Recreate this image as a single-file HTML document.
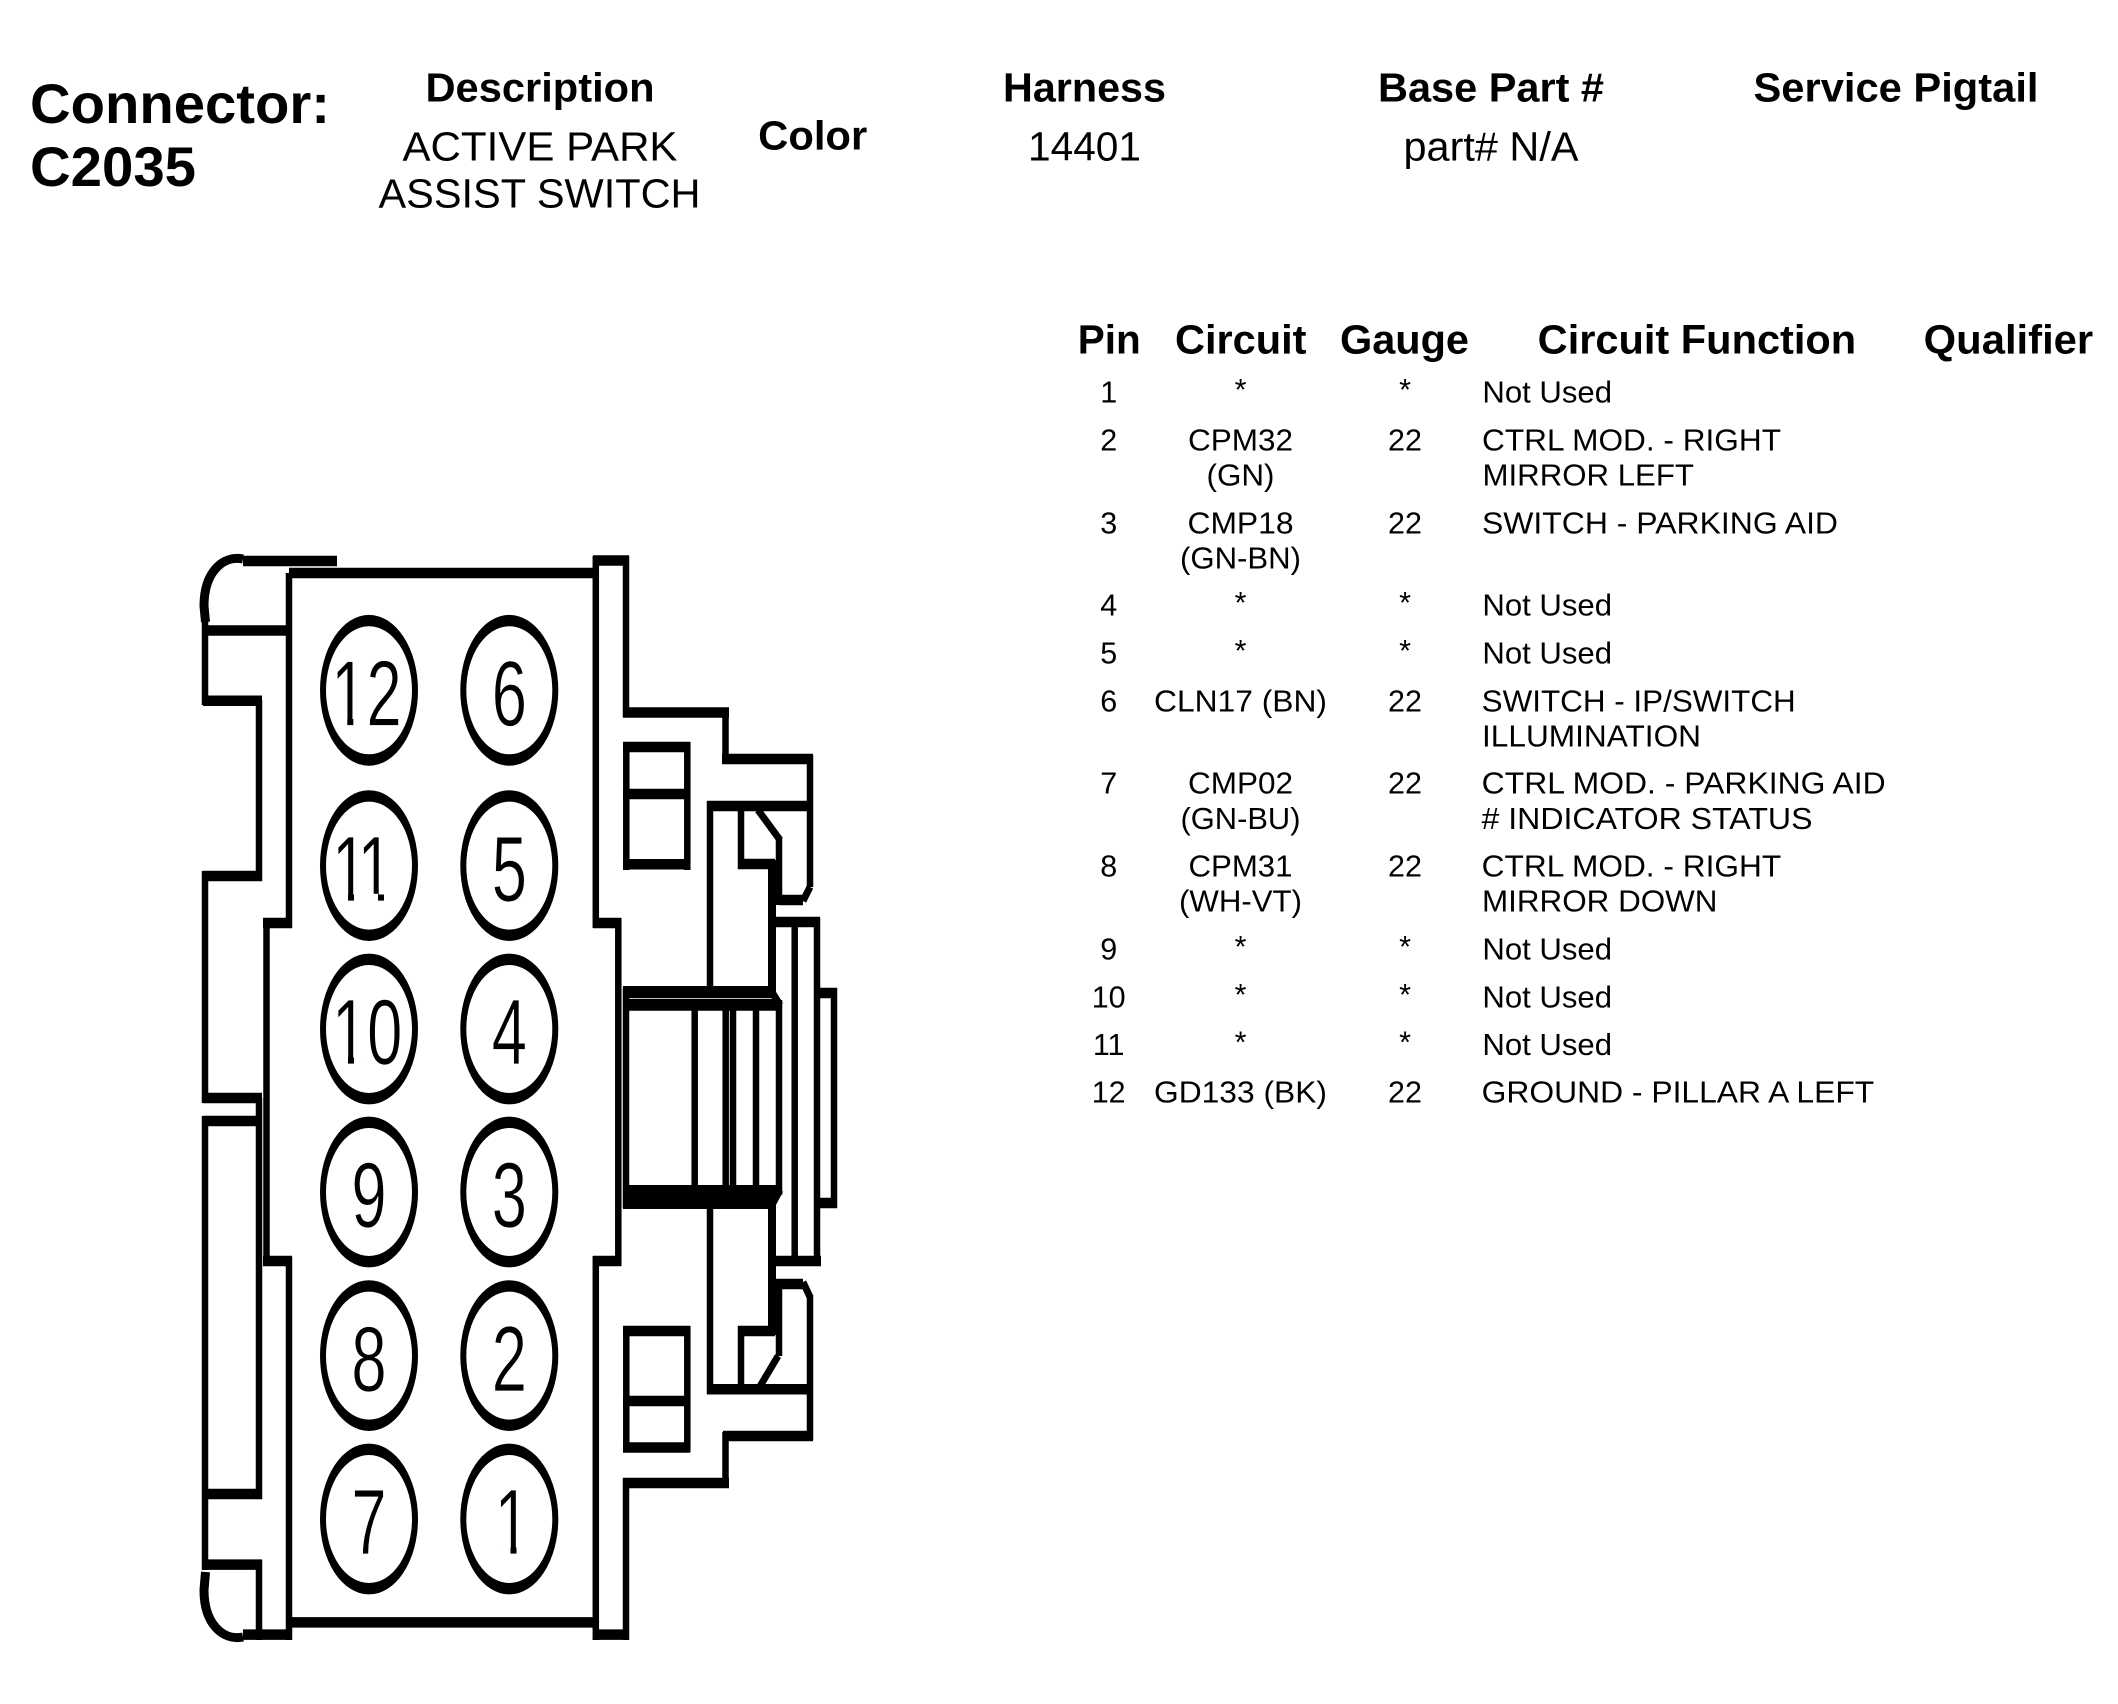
<!DOCTYPE html>
<html lang="en">
<head>
<meta charset="utf-8">
<title>Connector C2035</title>
<style>
html,body{margin:0;padding:0;background:#fff;}
svg{display:block;}
text{font-family:"Liberation Sans",Arial,sans-serif;fill:#000;}
.b{font-weight:bold;font-size:41px;}
.r{font-size:41px;}
.t{font-size:30.5px;}
.m{text-anchor:middle;}
.n{font-size:93px;text-anchor:middle;stroke:#fff;stroke-width:.8px;}
.s{text-anchor:start;}
.h{fill:none;stroke:#000;stroke-width:10.5;}
.v{fill:none;stroke:#000;stroke-width:6.5;}
.d{fill:none;stroke:#000;stroke-width:7;}
.c{fill:none;stroke:#000;stroke-width:9;}
.a{transform:translateY(-2.5px);}
</style>
</head>
<body>
<svg xmlns="http://www.w3.org/2000/svg" width="2118" height="1704" viewBox="0 0 2118 1704">
<rect width="2118" height="1704" fill="#fff"/>

<!-- Page header -->
<text x="30" y="123" class="b" style="font-size:56px" textLength="300" lengthAdjust="spacingAndGlyphs">Connector:</text>
<text x="30" y="186" class="b" style="font-size:56px" textLength="166" lengthAdjust="spacingAndGlyphs">C2035</text>
<text x="540" y="101.7" class="b m" textLength="229" lengthAdjust="spacingAndGlyphs">Description</text>
<text x="540" y="160.7" class="r m" textLength="275" lengthAdjust="spacingAndGlyphs">ACTIVE PARK</text>
<text x="539.5" y="207.7" class="r m" textLength="322" lengthAdjust="spacingAndGlyphs">ASSIST SWITCH</text>
<text x="812.7" y="149.3" class="b m" textLength="109" lengthAdjust="spacingAndGlyphs">Color</text>
<text x="1084.5" y="101.7" class="b m" textLength="163" lengthAdjust="spacingAndGlyphs">Harness</text>
<text x="1084.5" y="160.7" class="r m" textLength="113" lengthAdjust="spacingAndGlyphs">14401</text>
<text x="1491" y="101.7" class="b m" textLength="226" lengthAdjust="spacingAndGlyphs">Base Part #</text>
<text x="1491" y="160.7" class="r m" textLength="175" lengthAdjust="spacingAndGlyphs">part# N/A</text>
<text x="1896" y="101.7" class="b m" textLength="285" lengthAdjust="spacingAndGlyphs">Service Pigtail</text>

<!-- Table header -->
<text x="1077.7" y="353.3" class="b" textLength="63" lengthAdjust="spacingAndGlyphs">Pin</text>
<text x="1175" y="353.3" class="b" textLength="131.5" lengthAdjust="spacingAndGlyphs">Circuit</text>
<text x="1340" y="353.3" class="b" textLength="129" lengthAdjust="spacingAndGlyphs">Gauge</text>
<text x="1537.7" y="353.3" class="b" textLength="318.5" lengthAdjust="spacingAndGlyphs">Circuit Function</text>
<text x="1923.7" y="353.3" class="b" textLength="169.5" lengthAdjust="spacingAndGlyphs">Qualifier</text>

<!-- Table rows -->
<g class="t">
<text x="1108.7" y="402.3" class="t m">1</text><text x="1240.5" y="402.3" class="t m a">*</text><text x="1405" y="402.3" class="t m a">*</text><text x="1482.4" y="402.3" class="t" textLength="129.6" lengthAdjust="spacingAndGlyphs">Not Used</text>

<text x="1108.7" y="450.7" class="t m">2</text><text x="1240.5" y="450.7" class="t m" textLength="105" lengthAdjust="spacingAndGlyphs">CPM32</text><text x="1405" y="450.7" class="t m">22</text><text x="1482" y="450.7" class="t" textLength="299" lengthAdjust="spacingAndGlyphs">CTRL MOD. - RIGHT</text>
<text x="1240.5" y="485.7" class="t m" textLength="68" lengthAdjust="spacingAndGlyphs">(GN)</text><text x="1482.5" y="485.7" class="t" textLength="211.5" lengthAdjust="spacingAndGlyphs">MIRROR LEFT</text>

<text x="1108.7" y="533.3" class="t m">3</text><text x="1240.5" y="533.3" class="t m" textLength="106" lengthAdjust="spacingAndGlyphs">CMP18</text><text x="1405" y="533.3" class="t m">22</text><text x="1482" y="533.3" class="t" textLength="356" lengthAdjust="spacingAndGlyphs">SWITCH - PARKING AID</text>
<text x="1240.5" y="568.3" class="t m" textLength="121" lengthAdjust="spacingAndGlyphs">(GN-BN)</text>

<text x="1108.7" y="615.7" class="t m">4</text><text x="1240.5" y="615.7" class="t m a">*</text><text x="1405" y="615.7" class="t m a">*</text><text x="1482.4" y="615.7" class="t" textLength="129.6" lengthAdjust="spacingAndGlyphs">Not Used</text>

<text x="1108.7" y="663.3" class="t m">5</text><text x="1240.5" y="663.3" class="t m a">*</text><text x="1405" y="663.3" class="t m a">*</text><text x="1482.4" y="663.3" class="t" textLength="129.6" lengthAdjust="spacingAndGlyphs">Not Used</text>

<text x="1108.7" y="711.7" class="t m">6</text><text x="1240.5" y="711.7" class="t m" textLength="173" lengthAdjust="spacingAndGlyphs">CLN17 (BN)</text><text x="1405" y="711.7" class="t m">22</text><text x="1481.7" y="711.7" class="t" textLength="314" lengthAdjust="spacingAndGlyphs">SWITCH - IP/SWITCH</text>
<text x="1482" y="746.7" class="t" textLength="219" lengthAdjust="spacingAndGlyphs">ILLUMINATION</text>

<text x="1108.7" y="793.3" class="t m">7</text><text x="1240.5" y="793.3" class="t m" textLength="105" lengthAdjust="spacingAndGlyphs">CMP02</text><text x="1405" y="793.3" class="t m">22</text><text x="1481.7" y="793.3" class="t" textLength="404" lengthAdjust="spacingAndGlyphs">CTRL MOD. - PARKING AID</text>
<text x="1240.5" y="829" class="t m" textLength="120" lengthAdjust="spacingAndGlyphs">(GN-BU)</text><text x="1481.5" y="829" class="t" textLength="331" lengthAdjust="spacingAndGlyphs"># INDICATOR STATUS</text>

<text x="1108.7" y="876.7" class="t m">8</text><text x="1240.5" y="876.7" class="t m" textLength="104" lengthAdjust="spacingAndGlyphs">CPM31</text><text x="1405" y="876.7" class="t m">22</text><text x="1481.7" y="876.7" class="t" textLength="299.5" lengthAdjust="spacingAndGlyphs">CTRL MOD. - RIGHT</text>
<text x="1240.5" y="911.7" class="t m" textLength="123" lengthAdjust="spacingAndGlyphs">(WH-VT)</text><text x="1482" y="911.7" class="t" textLength="235.5" lengthAdjust="spacingAndGlyphs">MIRROR DOWN</text>

<text x="1108.7" y="959.3" class="t m">9</text><text x="1240.5" y="959.3" class="t m a">*</text><text x="1405" y="959.3" class="t m a">*</text><text x="1482.4" y="959.3" class="t" textLength="129.6" lengthAdjust="spacingAndGlyphs">Not Used</text>

<text x="1108.7" y="1007.3" class="t m">10</text><text x="1240.5" y="1007.3" class="t m a">*</text><text x="1405" y="1007.3" class="t m a">*</text><text x="1482.4" y="1007.3" class="t" textLength="129.6" lengthAdjust="spacingAndGlyphs">Not Used</text>

<text x="1108.7" y="1055" class="t m">11</text><text x="1240.5" y="1055" class="t m a">*</text><text x="1405" y="1055" class="t m a">*</text><text x="1482.4" y="1055" class="t" textLength="129.6" lengthAdjust="spacingAndGlyphs">Not Used</text>

<text x="1108.7" y="1102.3" class="t m">12</text><text x="1240.5" y="1102.3" class="t m" textLength="173" lengthAdjust="spacingAndGlyphs">GD133 (BK)</text><text x="1405" y="1102.3" class="t m">22</text><text x="1481.7" y="1102.3" class="t" textLength="392.5" lengthAdjust="spacingAndGlyphs">GROUND - PILLAR A LEFT</text>
</g>

<!-- Connector: horizontal strokes -->
<path class="h" d="M243 561H337M289 573H598M205 630.5H289M203 700.7H262M203 876H262M203 1098H262M203 1121H262M203 1494H262M203 1564.6H262M243 1634.6H292M289 1622.4H598M263 923H292M263 1261H292M593 560.5H629M593 923H621M593 1261H621M593 1634.6H629M623 712.5H729M722 759H813M779 900H803M707 806H813M738 864H775M623 747H690M623 794H690M623 864.3H690M772 922H820M814 993H837M814 1203H837M772 1261H821M707 1389.3H813M738 1331H775M776 1284H803M723 1436H813M623 1483H729M623 1331H690M623 1401H690M623 1447.5H690"/>
<path class="h" style="stroke-width:12" d="M623 992H772M623 1004.7H778M623 1191H778M623 1203H775"/>

<!-- Connector: vertical strokes -->
<path class="v" d="M289 573V928M289 1257V1640M266.5 919V1266M259 700V881M259 1098V1499M259 1560V1640M205 620V705M205 871V1103M205 1116V1570M595.8 556V928M595.8 1256V1640M626 556V717M626 1478V1640M618.3 918V1266M725.5 708V764M725.5 1432V1488M810 755V887M810 1295V1440M710 801V992M710 1198V1394M741 801V869M741 1326V1394M779 838V905M779 1000V1195M779 1280V1356M794.7 918V1265M817 918V1265M834 988V1208M626 988V1208M694.7 1000V1195M725.7 1000V1195M733 1000V1195M756 1000V1195M626.3 742V870M687.3 742V870M626.3 1326V1452M687.3 1326V1452"/>
<path class="v" style="stroke-width:8" d="M772 860V995M772 1198V1335"/>

<!-- Connector: diagonals and curves -->
<path class="d" d="M758 810L780 840M810 887L803 901M772 992L780 1005M780 1190L772 1205M778 1356L759 1388M803 1282L810 1297"/>
<path class="c" d="M243 559C223 555 204 572 204 606L205.5 622"/>
<path class="c" d="M243 1637C223 1641 204 1624 204 1590L205.5 1572"/>

<!-- Pin circles -->
<g fill="#fff" stroke="none">
<ellipse cx="369" cy="690.3" rx="49" ry="75.4" fill="#000"/><ellipse cx="369" cy="690.3" rx="43" ry="64"/>
<ellipse cx="509.3" cy="690.3" rx="49" ry="75.4" fill="#000"/><ellipse cx="509.3" cy="690.3" rx="43" ry="64"/>
<ellipse cx="369" cy="865.6" rx="49" ry="75.4" fill="#000"/><ellipse cx="369" cy="865.6" rx="43" ry="64"/>
<ellipse cx="509.3" cy="865.6" rx="49" ry="75.4" fill="#000"/><ellipse cx="509.3" cy="865.6" rx="43" ry="64"/>
<ellipse cx="369" cy="1029" rx="49" ry="75.4" fill="#000"/><ellipse cx="369" cy="1029" rx="43" ry="64"/>
<ellipse cx="509.3" cy="1029" rx="49" ry="75.4" fill="#000"/><ellipse cx="509.3" cy="1029" rx="43" ry="64"/>
<ellipse cx="369" cy="1192" rx="49" ry="75.4" fill="#000"/><ellipse cx="369" cy="1192" rx="43" ry="64"/>
<ellipse cx="509.3" cy="1192" rx="49" ry="75.4" fill="#000"/><ellipse cx="509.3" cy="1192" rx="43" ry="64"/>
<ellipse cx="369" cy="1355.6" rx="49" ry="75.4" fill="#000"/><ellipse cx="369" cy="1355.6" rx="43" ry="64"/>
<ellipse cx="509.3" cy="1355.6" rx="49" ry="75.4" fill="#000"/><ellipse cx="509.3" cy="1355.6" rx="43" ry="64"/>
<ellipse cx="369" cy="1519" rx="49" ry="75.4" fill="#000"/><ellipse cx="369" cy="1519" rx="43" ry="64"/>
<ellipse cx="509.3" cy="1519" rx="49" ry="75.4" fill="#000"/><ellipse cx="509.3" cy="1519" rx="43" ry="64"/>
</g>

<!-- Pin numbers -->
<text class="n s" transform="translate(331.3 725.5) scale(.68 1)">12</text>
<text class="n" transform="translate(509.3 725.5) scale(.68 1)">6</text>
<text class="n s" style="letter-spacing:-7.4px" transform="translate(332 900.8) scale(.68 1)">11</text>
<text class="n" transform="translate(509.3 900.8) scale(.68 1)">5</text>
<text class="n s" transform="translate(332 1064.2) scale(.68 1)">10</text>
<text class="n" transform="translate(509.3 1064.2) scale(.68 1)">4</text>
<text class="n" transform="translate(369 1227.2) scale(.68 1)">9</text>
<text class="n" transform="translate(509.3 1227.2) scale(.68 1)">3</text>
<text class="n" transform="translate(369 1390.8) scale(.68 1)">8</text>
<text class="n" transform="translate(509.3 1390.8) scale(.68 1)">2</text>
<text class="n" transform="translate(369 1554.2) scale(.68 1)">7</text>
<text class="n" transform="translate(512.2 1554.2) scale(.68 1)">1</text>

<!-- Trim the foot of the numeral 1 to match the reference typeface -->
<g fill="#fff">
<rect x="334.3" y="718.5" width="13" height="8"/><rect x="353.3" y="718.5" width="12" height="8"/>
<rect x="335" y="893.8" width="13" height="8"/><rect x="354" y="893.8" width="24" height="8"/><rect x="384" y="893.8" width="12" height="8"/>
<rect x="335" y="1057.2" width="13" height="8"/><rect x="354" y="1057.2" width="12" height="8"/>
<rect x="497.6" y="1547.2" width="12.9" height="8"/><rect x="516.5" y="1547.2" width="12.5" height="8"/>
</g>
</svg>
</body>
</html>
